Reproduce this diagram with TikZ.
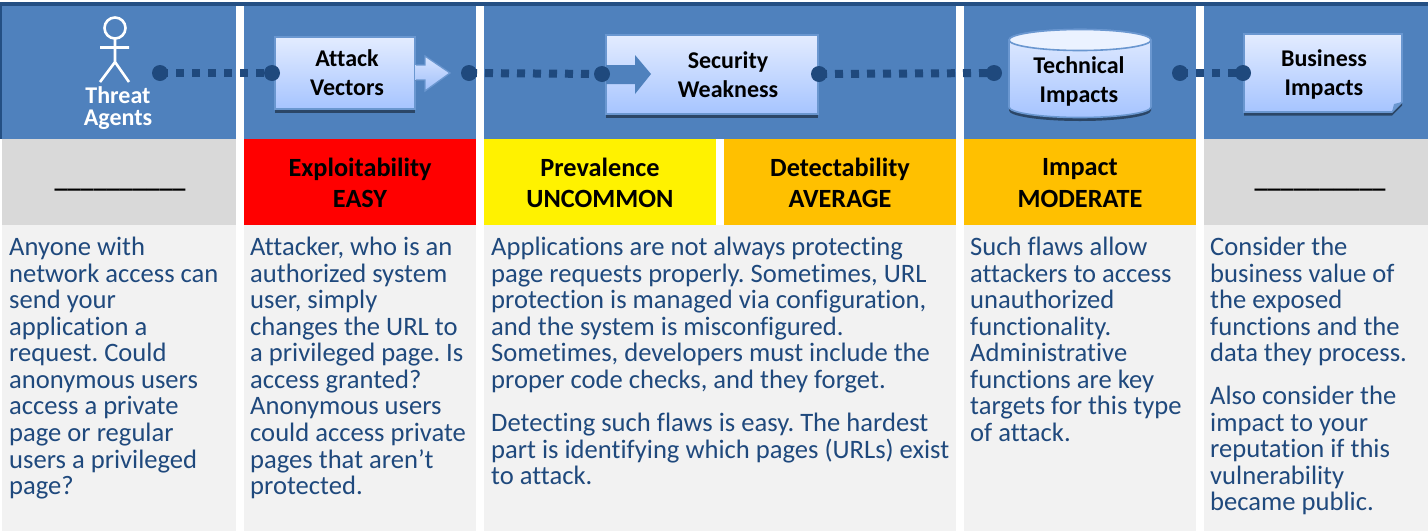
\documentclass[tikz,border=0pt]{standalone}
\usepackage{fontspec}
\setmainfont[Ligatures=NoCommon]{Carlito}
\usetikzlibrary{shadows,calc}
\definecolor{hdr}{HTML}{4F81BD}
\definecolor{dark}{HTML}{1F497D}
\definecolor{edge}{HTML}{6A97D0}
\definecolor{grayc}{HTML}{D9D9D9}
\definecolor{body}{HTML}{F2F2F2}
\definecolor{org}{HTML}{FFC000}
\definecolor{gtop}{HTML}{E3ECFF}
\definecolor{gbot}{HTML}{A6C4FF}
\tikzset{
  x=1pt,y=-1pt,
  cell/.style={inner sep=0,outer sep=0},
  glossy/.style={top color=gtop,bottom color=gbot,draw=edge,line width=1.6pt,
     drop shadow={shadow xshift=0pt,shadow yshift=-3.5pt,fill=black,opacity=.45}},
  glosslabel/.style={font=\fontsize{24}{29}\selectfont\bfseries,align=center,text=black,inner sep=0},
  ratelabel/.style={font=\fontsize{26.3}{31.5}\selectfont\bfseries,align=center,text=black,inner sep=0},
  bodytext/.style={font=\fontsize{26.6}{26.55}\selectfont\frenchspacing,align=left,text=dark,anchor=north west,inner sep=0},
  dot/.style={circle,fill=dark,minimum size=16pt,inner sep=0},
  link/.style={dark,line width=8pt,dash pattern=on 8pt off 8pt},
  stick/.style={white,line width=2.6pt}
}
\begin{document}
\begin{tikzpicture}
\useasboundingbox (0,0) rectangle (1428,531);
\fill[white] (0,0) rectangle (1428,531);
\fill[dark!90!hdr] (0,2) rectangle (1428,6);
\fill[dark!90!hdr] (0,2) rectangle (2,139);
% blue header
\foreach \a/\b in {2/236,244/476,484/956,964/1196,1204/1428}{
  \fill[hdr] (\a,6) rectangle (\b,139);
  \fill[body] (\a,225) rectangle (\b,531);
}
\fill[grayc] (2,139) rectangle (236,225);
\fill[red] (244,139) rectangle (476,225);
\fill[yellow] (484,139) rectangle (716,225);
\fill[org] (724,139) rectangle (956,225);
\fill[org] (964,139) rectangle (1196,225);
\fill[grayc] (1204,139) rectangle (1428,225);
% stick figure
\draw[stick] (115,28) circle (10.5);
\draw[stick] (115,39) -- (115,62) (100,47.5) -- (129,47.5) (100,82) -- (115,62) -- (129,82);
\node[font=\fontsize{24}{22}\selectfont\bfseries,text=white,align=center,inner sep=0] (threat) at (118,108) {Threat\\Agents};
% attack vectors
\node[glossy,minimum width=140pt,minimum height=72pt,inner sep=0] (attack) at (345,73) {};
\fill[top color=gtop!80!gbot,bottom color=gbot!90!edge,draw=none] (415,65) -- (425,65) -- (425,56) -- (450,73) -- (425,91) -- (425,80) -- (415,80) -- cycle;
\draw[edge,line width=1.3pt] (416,65) -- (425,65) -- (425,56) -- (450,73) -- (425,91) -- (425,80) -- (416,80);
\node[glosslabel] (attackl) at (347,73) {Attack\\Vectors};
% security
\node[glossy,minimum width=212pt,minimum height=79pt,inner sep=0] (weak) at (712,74.5) {};
\fill[hdr] (606,65) -- (635,65) -- (635,55) -- (651,74) -- (635,94) -- (635,84) -- (606,84) -- cycle;
\node[glosslabel] (weakl) at (728,75) {Security\\Weakness};
% cylinder
\path[top color=gtop,bottom color=gbot,draw=edge,line width=1.6pt,
  drop shadow={shadow xshift=0pt,shadow yshift=-3.5pt,fill=black,opacity=.45}]
  (1009,40) arc[start angle=180,end angle=360,x radius=71,y radius=10.5] -- (1151,107)
  arc[start angle=0,end angle=180,x radius=71,y radius=10.5] -- cycle;
\path[draw=edge,line width=1.6pt,fill=gtop!70!white] (1080,40) ellipse[x radius=71,y radius=10.5];
\node[glosslabel] (techl) at (1079,81) {Technical\\Impacts};
% note
\path[top color=gtop,bottom color=gbot,draw=edge,line width=1.6pt,
  drop shadow={shadow xshift=0pt,shadow yshift=-3.5pt,fill=black,opacity=.45}]
  (1244,34) -- (1402,34) -- (1402,102) -- (1392,112) -- (1244,112) -- cycle;
\fill[edge] (1392,112) -- (1394,104) -- (1402,102) -- cycle;
\node[glosslabel] (bizl) at (1324,74) {Business\\Impacts};
% dots and links
\node[dot] (d1) at (160,73) {};
\node[dot] (d2) at (272,73) {};
\node[dot] (d3) at (469,73) {};
\node[dot] (d4) at (602,74) {};
\node[dot] (d5) at (819,74) {};
\node[dot] (d6) at (994,73) {};
\node[dot] (d7) at (1180,73) {};
\node[dot] (d8) at (1243,73) {};
\draw[link] (d1.center) -- (d2.center);
\draw[link] (d3.center) -- (d4.center);
\draw[link] (d5.center) -- (d6.center);
\draw[link] (d7.center) -- (d8.center);
% ratings
\node[ratelabel] (r1) at (120,189) {\_\_\_\_\_\_\_\_\_\_};
\node[ratelabel] (r2) at (360,183) {Exploitability\\EASY};
\node[ratelabel] (r3) at (600,183) {Prevalence\\UNCOMMON};
\node[ratelabel] (r4) at (840,183) {Detectability\\AVERAGE};
\node[ratelabel] (r5) at (1080,183) {Impact\\MODERATE};
\node[ratelabel] (r6) at (1320,189) {\_\_\_\_\_\_\_\_\_\_};
% body
\node[bodytext] (t1) at (9,237) {Anyone with\\network access can\\send your\\application a\\request. Could\\anonymous users\\access a private\\page or regular\\users a privileged\\page?};
\node[bodytext] (t2) at (250,237) {Attacker, who is an\\authorized system\\user, simply\\changes the URL to\\a privileged page. Is\\access granted?\\Anonymous users\\could access private\\pages that aren’t\\protected.};
\node[bodytext] (t3) at (491,237) {Applications are not always protecting\\page requests properly. Sometimes, URL\\protection is managed via configuration,\\and the system is misconfigured.\\Sometimes, developers must include the\\proper code checks, and they forget.};
\node[bodytext] (t3b) at (491,413) {Detecting such flaws is easy. The hardest\\part is identifying which pages (URLs) exist\\to attack.};
\node[bodytext] (t4) at (970,237) {Such flaws allow\\attackers to access\\unauthorized\\functionality.\\Administrative\\functions are key\\targets for this type\\of attack.};
\node[bodytext] (t5) at (1210,237) {Consider the\\business value of\\the exposed\\functions and the\\data they process.};
\node[bodytext] (t5b) at (1210,386) {Also consider the\\impact to your\\reputation if this\\vulnerability\\became public.};
\end{tikzpicture}
\end{document}
